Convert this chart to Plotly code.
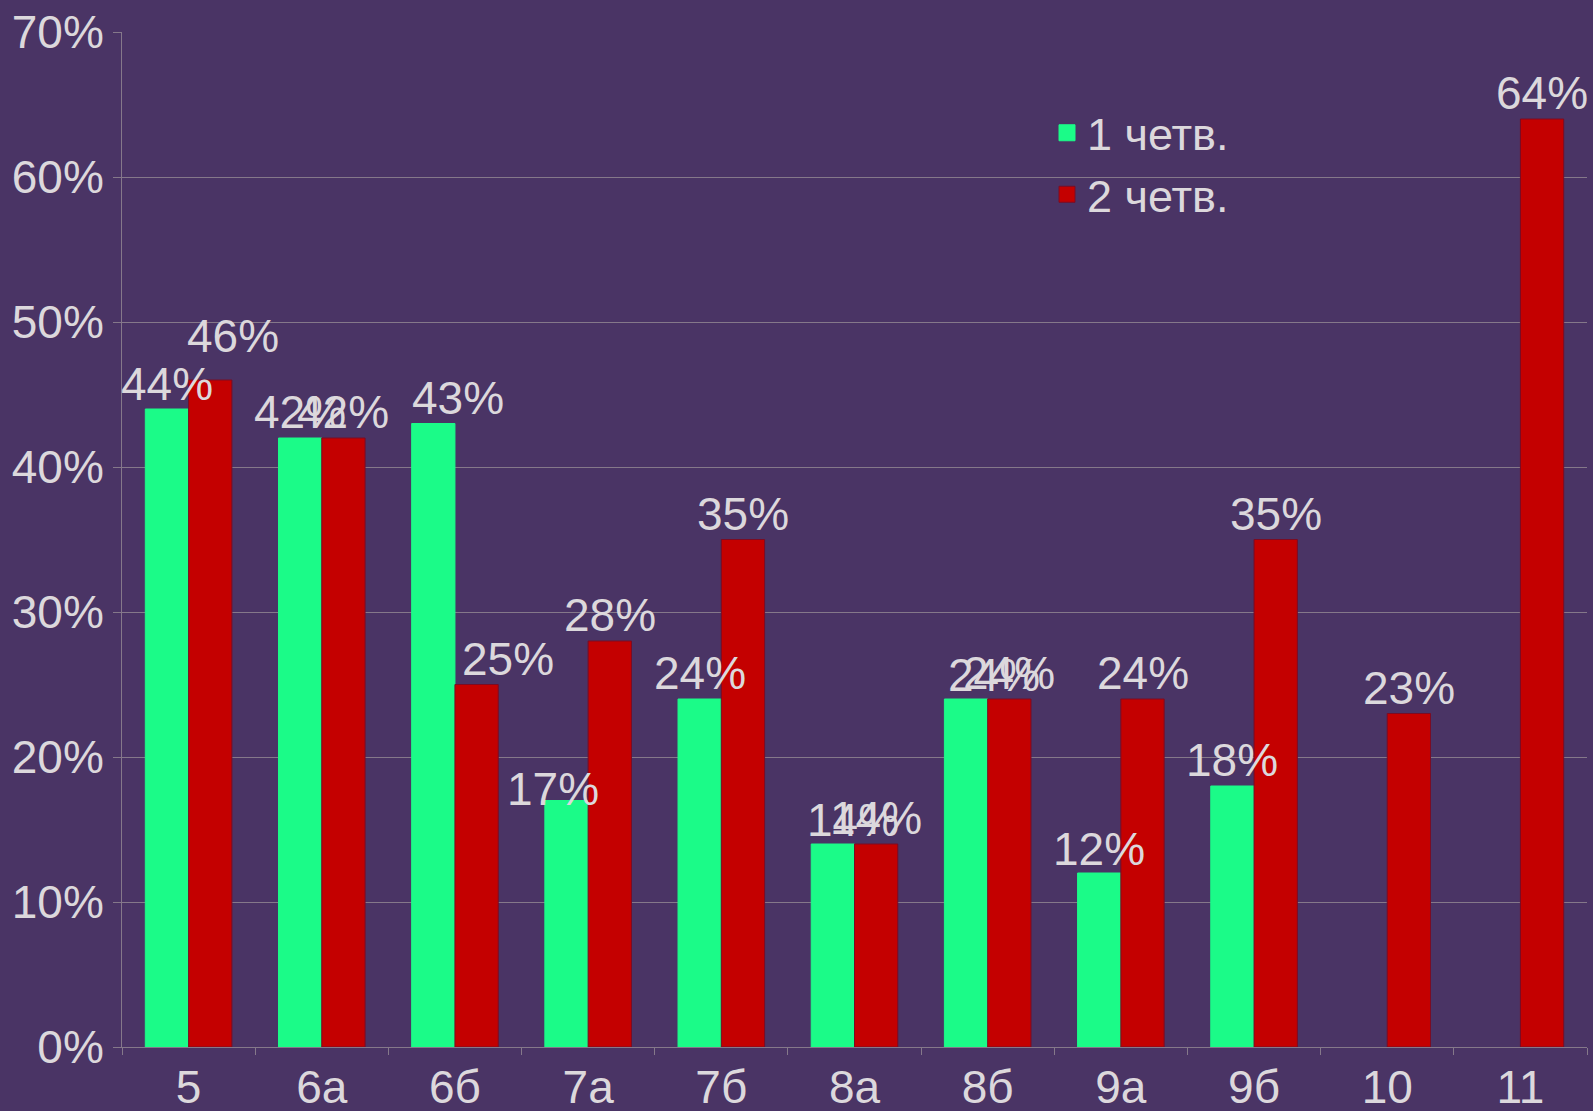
import plotly.graph_objects as go

categories = ["5", "6а", "6б", "7а", "7б", "8а", "8б", "9а", "9б", "10", "11"]
q1_values = [44, 42, 43, 17, 24, 14, 24, 12, 18, None, None]
q2_values = [46, 42, 25, 28, 35, 14, 24, 24, 35, 23, 64]
series_names = ["1 четв.", "2 четв."]
y_ticks = [0, 10, 20, 30, 40, 50, 60, 70]
y_tick_labels = [f"{v}%" for v in y_ticks]

# label nudges (pixels) to mimic the hand-placed labels of the original
nudges = {
    (0, 0): (0, -1), (1, 0): (23, 18),
    (0, 2): (25, 0), (1, 2): (31, 0),
    (0, 3): (-13, -14),
    (0, 5): (20, -2), (0, 6): (28, -2), (0, 7): (0, -2),
}

W, H = 1593, 1111
ML, MR, MT, MB = 122, 6, 32, 64
BARGAP = 0.35
GREEN = "#1bfb88"
RED = "#c40000"
TEXT = "#dcd8dc"
BG = "#4a3465"
GRID = "#85788a"
FONT = "Liberation Sans, Arial, sans-serif"

plot_w = W - ML - MR
cat_w = plot_w / len(categories)
bar_w = cat_w * (1 - BARGAP) / 2
offset = bar_w / 2

fig = go.Figure()
colors = [GREEN, RED]
lines = [GREEN, "#7a0c24"]
for k, vals in enumerate([q1_values, q2_values]):
    fig.add_trace(go.Bar(
        x=categories, y=vals, name=series_names[k],
        marker=dict(color=colors[k], line=dict(color=lines[k], width=1)),
        showlegend=False,
    ))
    # legend entry with a larger square symbol
    fig.add_trace(go.Scatter(
        x=[None], y=[None], mode="markers", name=series_names[k],
        marker=dict(symbol="square", size=16, color=colors[k],
                    line=dict(color=lines[k], width=1)),
        showlegend=True,
    ))

annotations = []
for k, vals in enumerate([q1_values, q2_values]):
    sign = -1 if k == 0 else 1
    for j, v in enumerate(vals):
        if v is None:
            continue
        dx, dy = nudges.get((k, j), (0, 0))
        annotations.append(dict(
            x=j, y=v, xref="x", yref="y",
            text=f"{v}%", showarrow=False,
            xanchor="center", yanchor="bottom",
            xshift=sign * offset + dx, yshift=dy - 2,
            font=dict(family=FONT, size=46, color=TEXT),
        ))

fig.update_layout(
    width=W, height=H,
    margin=dict(l=ML, r=MR, t=MT, b=MB),
    paper_bgcolor=BG, plot_bgcolor=BG,
    barmode="group", bargap=BARGAP, bargroupgap=0,
    font=dict(family=FONT, size=46, color=TEXT),
    annotations=annotations,
    legend=dict(
        x=(1047 - ML) / plot_w, y=(H - MB - 97) / (H - MT - MB),
        xanchor="left", yanchor="top",
        bgcolor="rgba(0,0,0,0)", font=dict(family=FONT, size=45, color=TEXT),
        itemsizing="trace", tracegroupgap=0,
    ),
    xaxis=dict(
        type="category", categoryorder="array", categoryarray=categories,
        showline=True, linecolor=GRID, linewidth=1,
        ticks="outside", tickson="boundaries", ticklen=7, tickcolor=GRID,
        showgrid=False, tickfont=dict(family=FONT, size=46, color=TEXT),
        automargin=False,
        range=[-0.5, len(categories) - 0.5],
    ),
    yaxis=dict(
        range=[0, 70], tickvals=y_ticks, ticktext=y_tick_labels,
        showline=True, linecolor=GRID, linewidth=1,
        ticks="outside", ticklen=8, tickcolor=GRID,
        showgrid=True, gridcolor=GRID, gridwidth=1,
        zeroline=False, automargin=False,
        tickfont=dict(family=FONT, size=46, color=TEXT),
    ),
)

fig.write_html(
    "out.html",
    config={"displayModeBar": False},
    post_script="document.body.style.margin='0';document.body.style.overflow='hidden';",
)
